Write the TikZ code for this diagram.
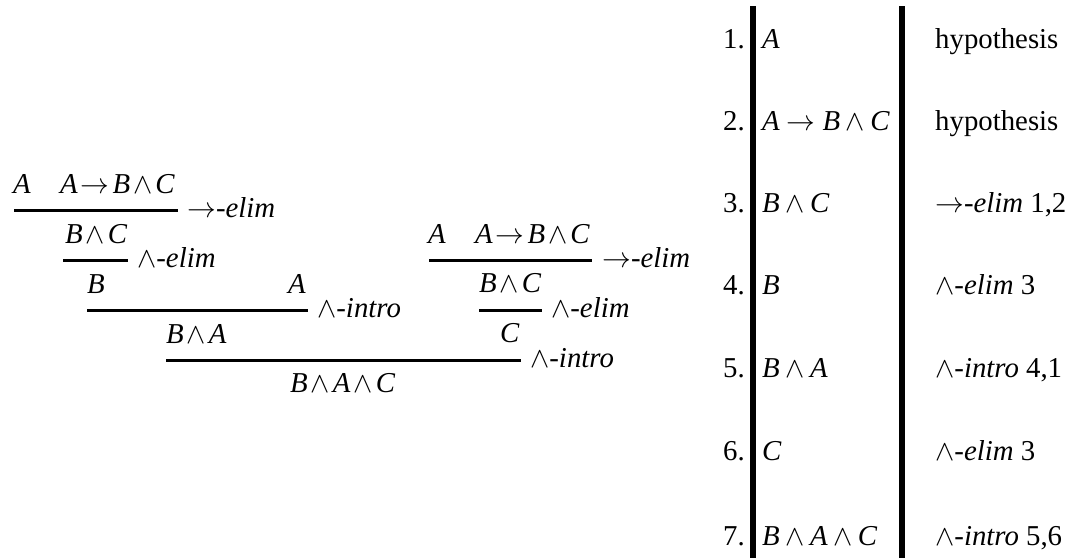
\RequirePackage{fix-cm}
\documentclass[tikz,border=0pt]{standalone}
\usepackage{fontspec}
\setmainfont{Liberation Serif}
\newcommand\vA{\textit{A}}
\newcommand\vB{\textit{B}}
\newcommand\vC{\textit{C}}
\newcommand\imp[1][3pt]{\hspace{#1}$\rightarrow$\hspace{#1}}
\newcommand\cnj[1][3pt]{\hspace{#1}$\wedge$\hspace{#1}}
\newcommand\timp{\imp[7pt]}
\newcommand\tcnj{\cnj[5.5pt]}
\newcommand\ruleimp{$\rightarrow$\textit{-elim}}
\newcommand\ruleand[1]{$\wedge$\textit{-#1}}
\begin{document}
\begin{tikzpicture}[x=1pt,y=-1pt,
  f/.style={anchor=base west,inner sep=0pt,font=\fontsize{28.8}{34}\selectfont},
  fe/.style={anchor=base east,inner sep=0pt,font=\fontsize{28.8}{34}\selectfont},
  rl/.style={line width=3pt},
  bar/.style={line width=6pt}]
\useasboundingbox (0,0) rectangle (1078,558);
% left tree
\node[f] (a1) at (13,193) {\vA};
\node[f] (ab1) at (60,193) {\vA\imp\vB\cnj\vC};
\draw[rl] (14,210.7) -- (178,210.7);
\node[f] (r1) at (187,217) {\ruleimp};
\node[f] (bc1) at (65,243) {\vB\cnj\vC};
\draw[rl] (63,260) -- (128,260);
\node[f] (r2) at (137,267) {\ruleand{elim}};
\node[f] (b1) at (87,293) {\vB};
\node[f] (a2) at (288,293) {\vA};
\draw[rl] (87,310) -- (308,310);
\node[f] (r3) at (317,317) {\ruleand{intro}};
\node[f] (ba1) at (166,343) {\vB\cnj\vA};
% right subtree
\node[f] (a3) at (428,243) {\vA};
\node[f] (ab2) at (475,243) {\vA\imp\vB\cnj\vC};
\draw[rl] (429,260) -- (592,260);
\node[f] (r4) at (602,267) {\ruleimp};
\node[f] (bc2) at (479,292) {\vB\cnj\vC};
\draw[rl] (479,310) -- (542,310);
\node[f] (r5) at (551,317) {\ruleand{elim}};
\node[f] (c1) at (500,342) {\vC};
\draw[rl] (166,360.7) -- (521,360.7);
\node[f] (r6) at (530,367) {\ruleand{intro}};
\node[f] (bac) at (290,392) {\vB\cnj\vA\cnj\vC};
% table
\draw[bar] (753,6) -- (753,558);
\draw[bar] (901.5,6) -- (901.5,558);
\foreach \i/\y/\fm/\j in {1/48/{\vA}/{hypothesis},
  2/130/{\vA\timp\vB\tcnj\vC}/{hypothesis},
  3/212/{\vB\tcnj\vC}/{\ruleimp{} 1,2},
  4/294/{\vB}/{\ruleand{elim} 3},
  5/377/{\vB\tcnj\vA}/{\ruleand{intro} 4,1},
  6/460/{\vC}/{\ruleand{elim} 3},
  7/545/{\vB\tcnj\vA\tcnj\vC}/{\ruleand{intro} 5,6}}{
  \node[fe] (n\i) at (745,\y) {\i.};
  \node[f] (p\i) at (762,\y) {\fm};
  \node[f] (j\i) at (935,\y) {\j};
}
\end{tikzpicture}
\end{document}
